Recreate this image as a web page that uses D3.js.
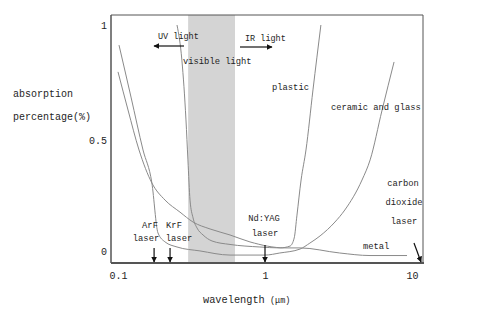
<!DOCTYPE html>
<html>
<head>
<meta charset="utf-8">
<script src="https://cdn.jsdelivr.net/npm/d3@7"></script>
<style>
  body { margin: 0; background: #fff; }
  svg { display: block; }
  text { font-family: "Liberation Mono", "DejaVu Sans Mono", monospace; fill: #1e1e1e; }
</style>
</head>
<body>
<svg id="chart" width="489" height="316"></svg>
<script>
// ---- data (wavelength in µm, absorption as fraction) ----
const plasticW = [0.252, 0.272, 0.290, 0.299, 0.309, 0.324, 0.345, 0.379, 0.436, 0.578, 0.923, 1.26, 1.48, 1.58, 1.65, 1.76, 1.90, 2.12, 2.40];
const plasticA = [1.00, 0.848, 0.589, 0.416, 0.242, 0.165, 0.121, 0.091, 0.065, 0.050, 0.039, 0.035, 0.043, 0.078, 0.177, 0.329, 0.459, 0.719, 1.00];

const ceramicW = [0.1016, 0.1226, 0.148, 0.170, 0.187, 0.209, 0.252, 0.361, 0.578, 1.00, 1.26, 1.73, 2.02, 2.37, 2.99, 3.49, 4.57, 5.19, 6.26, 7.55];
const ceramicA = [0.913, 0.688, 0.459, 0.316, 0.100, 0.061, 0.039, 0.022, 0.004, 0.004, 0.013, 0.030, 0.056, 0.087, 0.147, 0.199, 0.329, 0.416, 0.632, 0.840];

const metalW = [0.100, 0.117, 0.139, 0.170, 0.209, 0.264, 0.324, 0.423, 0.578, 0.790, 1.37, 1.73, 3.22, 5.18, 9.25];
const metalA = [0.797, 0.632, 0.459, 0.316, 0.242, 0.190, 0.147, 0.117, 0.091, 0.061, 0.035, 0.035, 0.013, 0.002, 0.002];

const visibleBand = [0.30, 0.625];
const xTicks = [0.1, 1, 10];
const xTickLabels = ["0.1", "1", "10"];
const yTicks = [0, 0.5, 1];
const yTickLabels = ["0", "0.5", "1"];
const laserW = [0.176, 0.226, 1.0];

// ---- layout ----
const svg = d3.select("#chart");
const x = d3.scaleLog().domain([0.1, 10]).range([118, 412]);
const y = d3.scaleLinear().domain([0, 1]).range([256, 25]);
const frame = {l: 111, r: 423, t: 15, b: 263};

svg.append("rect").attr("width", 489).attr("height", 316).attr("fill", "#fff");

// arrow markers
const defs = svg.append("defs");
defs.append("marker").attr("id", "ah").attr("viewBox", "0 0 10 10")
  .attr("refX", 9).attr("refY", 5).attr("markerWidth", 5).attr("markerHeight", 5)
  .attr("orient", "auto")
  .append("path").attr("d", "M0,0 L10,5 L0,10 Z").attr("fill", "#111");

// visible band
svg.append("rect")
  .attr("x", x(visibleBand[0])).attr("y", frame.t)
  .attr("width", x(visibleBand[1]) - x(visibleBand[0]))
  .attr("height", frame.b - frame.t)
  .attr("fill", "#d4d4d4");

// frame
svg.append("line").attr("x1", frame.l).attr("x2", frame.r).attr("y1", frame.t).attr("y2", frame.t).attr("stroke", "#555").attr("stroke-width", 1);
svg.append("line").attr("x1", frame.r).attr("x2", frame.r).attr("y1", frame.t).attr("y2", frame.b).attr("stroke", "#555").attr("stroke-width", 1);
svg.append("line").attr("x1", frame.l).attr("x2", frame.l).attr("y1", frame.t).attr("y2", frame.b).attr("stroke", "#555").attr("stroke-width", 1.5);
svg.append("line").attr("x1", frame.l).attr("x2", frame.r + 1).attr("y1", frame.b).attr("y2", frame.b).attr("stroke", "#555").attr("stroke-width", 2);

// curves
const line = d3.line().x(d => x(d[0])).y(d => y(d[1])).curve(d3.curveMonotoneX);
const series = [
  [plasticW, plasticA],
  [ceramicW, ceramicA],
  [metalW, metalA]
];
series.forEach(([ws, as]) => {
  svg.append("path")
    .datum(ws.map((w, i) => [w, as[i]]))
    .attr("d", line)
    .attr("fill", "none")
    .attr("stroke", "#8a8a8a")
    .attr("stroke-width", 1);
});

// axes (labels only)
const xAxis = d3.axisBottom(x).tickValues(xTicks)
  .tickFormat((d, i) => xTickLabels[i]).tickSize(0).tickPadding(0);
const gx = svg.append("g").attr("transform", "translate(0,272)").call(xAxis);
gx.select(".domain").remove();
gx.selectAll("text").attr("font-size", 10).attr("font-family", "Liberation Mono").attr("fill", "#1e1e1e");

const yAxis = d3.axisLeft(y).tickValues(yTicks)
  .tickFormat((d, i) => yTickLabels[i]).tickSize(0).tickPadding(0);
const gy = svg.append("g").attr("transform", "translate(107,0)").call(yAxis);
gy.select(".domain").remove();
gy.selectAll("text").attr("font-size", 10).attr("font-family", "Liberation Mono").attr("fill", "#1e1e1e");
gy.selectAll(".tick").filter(d => d === 0).select("text").attr("dy", "-0.18em");

// axis titles
svg.append("text").attr("x", 13).attr("y", 97).attr("font-size", 10).text("absorption");
svg.append("text").attr("x", 13).attr("y", 120).attr("font-size", 10).text("percentage(%)");
svg.append("text").attr("x", 203).attr("y", 303).attr("font-size", 10.3).text("wavelength");
svg.append("text").attr("x", 270).attr("y", 303).attr("font-size", 8.5).attr("font-family", "Noto Sans CJK SC").text("(μm)");

// light region annotations
function arrow(x1, y1, x2, y2) {
  svg.append("line").attr("x1", x1).attr("y1", y1).attr("x2", x2).attr("y2", y2)
    .attr("stroke", "#111").attr("stroke-width", 1.2).attr("marker-end", "url(#ah)");
}
svg.append("text").attr("x", 158).attr("y", 39).attr("font-size", 8.5).text("UV light");
arrow(184, 46, 154, 46);
svg.append("text").attr("x", 245).attr("y", 41).attr("font-size", 8.5).text("IR light");
arrow(240, 47, 272, 47);
svg.append("text").attr("x", 183).attr("y", 64).attr("font-size", 8.8).text("visible light");

// material labels
svg.append("text").attr("x", 272).attr("y", 90).attr("font-size", 8.8).text("plastic");
svg.append("text").attr("x", 331).attr("y", 110).attr("font-size", 8.8).text("ceramic and glass");
svg.append("text").attr("x", 363).attr("y", 249).attr("font-size", 8.8).text("metal");

// laser labels
function label(cx, cy, t) {
  svg.append("text").attr("x", cx).attr("y", cy).attr("text-anchor", "middle").attr("font-size", 8.8).text(t);
}
label(150, 228, "ArF");
label(146, 241, "laser");
label(174, 228, "KrF");
label(179, 241, "laser");
label(264, 221, "Nd:YAG");
label(265, 236, "laser");
label(403, 186, "carbon");
label(404, 205, "dioxide");
label(404, 224, "laser");

// laser arrows
const arrowTop = [248, 248, 245];
laserW.forEach((w, i) => arrow(x(w), arrowTop[i], x(w), frame.b - 1));
arrow(414, 243, 421, 262);
</script>
</body>
</html>
